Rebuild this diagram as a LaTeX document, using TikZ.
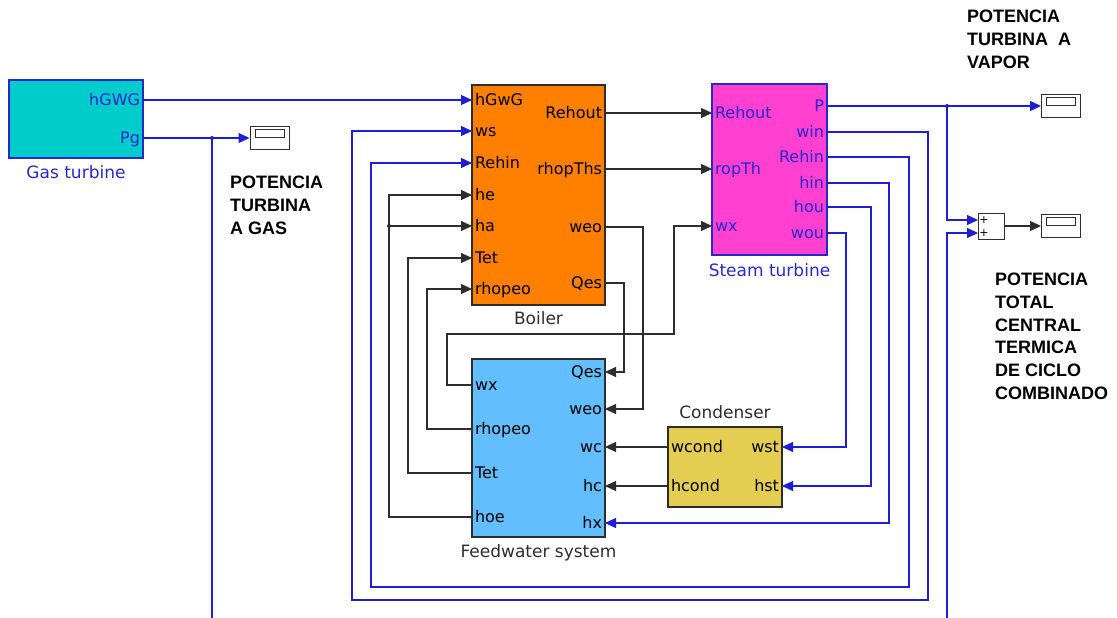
\documentclass[tikz,border=0pt]{standalone}
\usepackage{fontspec}
\setmainfont{DejaVu Sans}
\newfontfamily\capsfont{Liberation Sans}
\usepackage{tikz}
\usetikzlibrary{arrows.meta,positioning}
\definecolor{GTCyan}{RGB}{0,204,204}
\definecolor{BoilerOrange}{RGB}{255,128,0}
\definecolor{STMagenta}{RGB}{255,64,208}
\definecolor{FWBlue}{RGB}{98,190,255}
\definecolor{CondGold}{RGB}{228,206,82}
\definecolor{WireBlue}{RGB}{30,30,215}
\definecolor{EdgeBlue}{RGB}{40,40,200}
\definecolor{WireGray}{RGB}{45,45,45}
\newcommand{\portfont}{\fontsize{16}{19}\selectfont}
\newcommand{\titlefont}{\fontsize{17}{20}\selectfont}

\begin{document}
\begin{tikzpicture}[
  x=1pt,y=-1pt,
  block/.style={draw=WireGray,line width=1.1pt,inner sep=0pt},
  scopebox/.style={draw=WireGray,fill=white,line width=1pt,minimum width=39pt,minimum height=23pt,
              inner sep=0pt,path picture={\draw[line width=1pt]
              ([shift={(5pt,-3pt)}]path picture bounding box.north west) rectangle
              ([shift={(-5pt,-11pt)}]path picture bounding box.north east);}},
  port/.style={font=\portfont,inner xsep=3pt,inner ysep=0pt,outer sep=0pt,text height=11.6pt,text depth=0pt},
  inport/.style={port,anchor=west},
  outport/.style={port,anchor=east},
  title/.style={font=\titlefont,inner sep=0pt},
  caption/.style={font=\capsfont\bfseries\fontsize{18}{22.7}\selectfont,align=left,inner sep=0pt,anchor=north west},
  bline/.style={draw=WireBlue,line width=1.2pt},
  kline/.style={draw=WireGray,line width=1.2pt},
  bwire/.style={bline,-{Triangle[length=11pt,width=10pt]}},
  kwire/.style={kline,-{Triangle[length=11pt,width=10pt]}}
]
\useasboundingbox (0,0) rectangle (1117,618);

% blocks
\node[block,fill=GTCyan,draw=EdgeBlue,minimum width=134pt,minimum height=78pt] (gt) at (76,119) {};
\node[block,fill=BoilerOrange,minimum width=133pt,minimum height=220pt] (boiler) at (538.5,195) {};
\node[block,fill=STMagenta,draw=EdgeBlue,minimum width=115pt,minimum height=171pt] (st) at (769.5,169.5) {};
\node[block,fill=FWBlue,minimum width=133pt,minimum height=178pt] (fw) at (538.5,448) {};
\node[block,fill=CondGold,minimum width=114pt,minimum height=80pt] (cond) at (725,467) {};
\node[block,fill=white,line width=1pt,minimum width=26pt,minimum height=26pt] (sum) at (991,226) {};
\node[scopebox] (sc1) at (269.5,138) {};
\node[scopebox] (sc2) at (1061,106) {};
\node[scopebox] (sc3) at (1061,226) {};

\node[title,text=EdgeBlue,below=7pt of gt] (gt-title) {Gas turbine};
\node[title,text=WireGray,below=6pt of boiler] (boiler-title) {Boiler};
\node[title,text=EdgeBlue,below=8pt of st] (st-title) {Steam turbine};
\node[title,text=WireGray,below=7pt of fw] (fw-title) {Feedwater system};
\node[title,text=WireGray,above=8pt of cond] (cond-title) {Condenser};

% ports
\node[outport,text=EdgeBlue] (gt-hgwg) at (143,100) {hGWG};
\node[outport,text=EdgeBlue] (gt-pg) at (143,138) {Pg};

\node[inport] (b-hgwg) at (472,100) {hGwG};
\node[inport] (b-ws) at (472,131) {ws};
\node[inport] (b-rehin) at (472,163) {Rehin};
\node[inport] (b-he) at (472,195) {he};
\node[inport] (b-ha) at (472,226) {ha};
\node[inport] (b-tet) at (472,258) {Tet};
\node[inport] (b-rhopeo) at (472,289) {rhopeo};
\node[outport] (b-rehout) at (605,113) {Rehout};
\node[outport] (b-rhopths) at (605,169) {rhopThs};
\node[outport] (b-weo) at (605,227) {weo};
\node[outport] (b-qes) at (605,283) {Qes};

\node[inport,text=EdgeBlue] (st-rehout) at (712,113) {Rehout};
\node[inport,text=EdgeBlue] (st-ropth) at (712,169) {ropTh};
\node[inport,text=EdgeBlue] (st-wx) at (712,226) {wx};
\node[outport,text=EdgeBlue] (st-p) at (827,106) {P};
\node[outport,text=EdgeBlue] (st-win) at (827,132) {win};
\node[outport,text=EdgeBlue] (st-rehin) at (827,157) {Rehin};
\node[outport,text=EdgeBlue] (st-hin) at (827,183) {hin};
\node[outport,text=EdgeBlue] (st-hou) at (827,207) {hou};
\node[outport,text=EdgeBlue] (st-wou) at (827,233) {wou};

\node[inport] (fw-wx) at (472,385) {wx};
\node[inport] (fw-rhopeo) at (472,429) {rhopeo};
\node[inport] (fw-tet) at (472,473) {Tet};
\node[inport] (fw-hoe) at (472,517) {hoe};
\node[outport] (fw-qes) at (605,372) {Qes};
\node[outport] (fw-weo) at (605,409) {weo};
\node[outport] (fw-wc) at (605,447) {wc};
\node[outport] (fw-hc) at (605,486) {hc};
\node[outport] (fw-hx) at (605,523) {hx};

\node[inport] (c-wcond) at (668,447) {wcond};
\node[inport] (c-hcond) at (668,486) {hcond};
\node[outport] (c-wst) at (782,447) {wst};
\node[outport] (c-hst) at (782,486) {hst};

\node[font=\fontsize{11}{11}\selectfont,inner sep=0pt] (plus-a) at (984,220) {+};
\node[font=\fontsize{11}{11}\selectfont,inner sep=0pt] (plus-b) at (984,233) {+};
\coordinate (sum-a) at (978,220);
\coordinate (sum-b) at (978,233);

% captions
\node[caption] (cap-gas) at (230,176) {POTENCIA\\TURBINA\\A GAS};
\node[caption] (cap-vapor) at (967,10) {POTENCIA\\TURBINA\ \ A\\VAPOR};
\node[caption] (cap-total) at (995,273) {POTENCIA\\TOTAL\\CENTRAL\\TERMICA\\DE CICLO\\COMBINADO};

% gas turbine
\draw[bwire] (gt-hgwg.east) -- (b-hgwg.west);
\draw[bwire] (gt-pg.east) -- (sc1.west);
\coordinate (pgsplit) at (212,138);
\coordinate (pgend) at (212,618);
\draw[bline] (pgsplit) -- (pgend);
\fill[WireBlue] (pgsplit) circle (2pt);

% boiler -> steam turbine / feedwater
\draw[kwire] (b-rehout.east) -- (st-rehout.west);
\draw[kwire] (b-rhopths.east) -- (st-ropth.west);
\draw[kwire] (b-weo.east) -- ++(38,0) |- (fw-weo.east);
\draw[kwire] (b-qes.east) -- ++(19,0) |- (fw-qes.east);

% feedwater -> boiler / steam turbine
\draw[kwire] (fw-wx.west) -- ++(-25,0) |- (674,334) |- (st-wx.west);
\draw[kwire] (fw-rhopeo.west) -- ++(-45,0) |- (b-rhopeo.west);
\draw[kwire] (fw-tet.west) -- ++(-64,0) |- (b-tet.west);
\draw[kwire] (fw-hoe.west) -- ++(-83,0) |- (b-he.west);
\coordinate (hasplit) at (389,226);
\draw[kwire] (hasplit) -- (b-ha.west);
\fill[WireGray] (hasplit) circle (2pt);

% steam turbine outputs
\draw[bwire] (st-win.east) -| (928,600) -| (352,131) -- (b-ws.west);
\draw[bwire] (st-rehin.east) -| (909,587) -| (371,163) -- (b-rehin.west);
\draw[bwire] (st-hin.east) -- ++(62,0) |- (fw-hx.east);
\draw[bwire] (st-hou.east) -- ++(44,0) |- (c-hst.east);
\draw[bwire] (st-wou.east) -- ++(19,0) |- (c-wst.east);

% condenser
\draw[kwire] (c-wcond.west) -- (fw-wc.east);
\draw[kwire] (c-hcond.west) -- (fw-hc.east);

% power sum
\draw[bwire] (st-p.east) -- (sc2.west);
\coordinate (psplit) at (947,106);
\draw[bwire] (psplit) |- (sum-a);
\fill[WireBlue] (psplit) circle (2pt);
\coordinate (pgret) at (947,618);
\draw[bwire] (pgret) |- (sum-b);
\draw[kwire] (sum.east) -- (sc3.west);
\end{tikzpicture}
\end{document}
